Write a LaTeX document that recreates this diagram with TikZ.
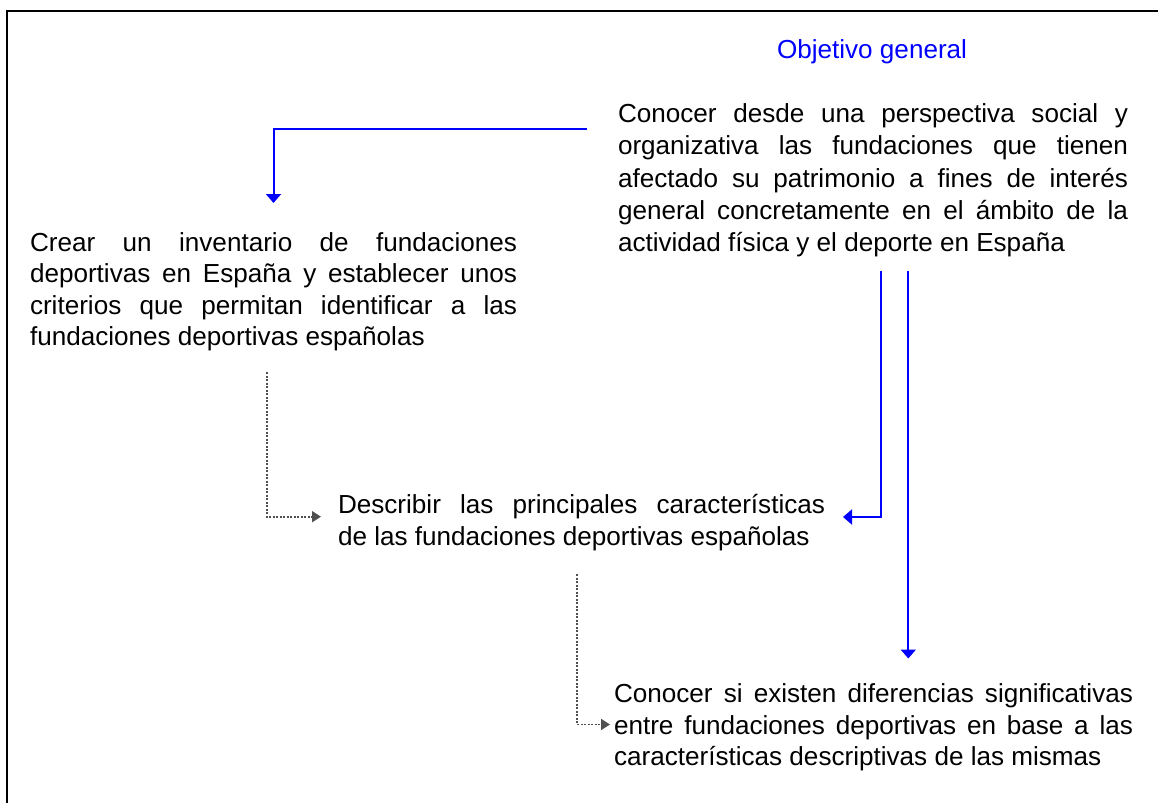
\documentclass[tikz,border=0pt]{standalone}
\usepackage{fontspec}
\setmainfont{Liberation Sans}
\usetikzlibrary{arrows.meta}
\newcommand\jline[1]{\hbox to \hsize{#1}}
\newcommand\lline[1]{\hbox{#1}}
\tikzset{
  txt/.style={anchor=base west, inner sep=0pt, outer sep=0pt, font=\fontsize{26.1}{32.2}\selectfont},
  bluearrow/.style={draw={rgb,255:red,0;green,0;blue,255}, line width=2pt, -{Triangle[width=15pt,length=9pt]}},
  grayarrow/.style={draw={rgb,255:red,80;green,80;blue,80}, line width=1.8pt, dash pattern=on 2pt off 1.5pt, -{Triangle[width=11pt,length=9pt]}},
  frameline/.style={draw=black, line width=1.5pt}
}
\begin{document}
\begin{tikzpicture}[x=1pt,y=-1pt]
\useasboundingbox (0,0) rectangle (1158,803);
\fill[white] (0,0) rectangle (1158,803);
\draw[frameline] (1158,11) -- (7,11) -- (7,803);

\node[txt, text={rgb,255:red,0;green,0;blue,255}] (obj) at (777,58.5) {Objetivo general};

\node[txt] (g) at (618,122.6) {\vtop{\hsize=510pt
  \jline{Conocer desde una perspectiva social y}
  \jline{organizativa las fundaciones que tienen}
  \jline{afectado su patrimonio a fines de interés}
  \jline{general concretamente en el ámbito de la}
  \lline{actividad física y el deporte en España}}};

\node[txt] (s1) at (30,251) {\vtop{\hsize=487pt\baselineskip=31.5pt
  \jline{Crear un inventario de fundaciones}
  \jline{deportivas en España y establecer unos}
  \jline{criterios que permitan identificar a las}
  \lline{fundaciones deportivas españolas}}};

\node[txt] (s2) at (338,513.5) {\vtop{\hsize=487pt\baselineskip=31.7pt
  \jline{Describir las principales características}
  \lline{de las fundaciones deportivas españolas}}};

\node[txt] (s3) at (614,702.5) {\vtop{\hsize=519pt\baselineskip=31.6pt
  \jline{Conocer si existen diferencias significativas}
  \jline{entre fundaciones deportivas en base a las}
  \lline{características descriptivas de las mismas}}};

\coordinate (a1s) at (587,129.3);
\coordinate (a1e) at (273.5,203);
\coordinate (a2s) at (881,270.7);
\coordinate (a2e) at (843,517);
\coordinate (a3s) at (908.3,270.7);
\coordinate (a3e) at (908.3,658.5);
\coordinate (d1s) at (266.7,372.3);
\coordinate (d1e) at (321,516.7);
\coordinate (d2s) at (577.3,574);
\coordinate (d2e) at (610,724.5);

\draw[bluearrow] (a1s) -| (a1e);
\draw[bluearrow] (a2s) |- (a2e);
\draw[bluearrow] (a3s) -- (a3e);
\draw[grayarrow] (d1s) |- (d1e);
\draw[grayarrow] (d2s) |- (d2e);
\end{tikzpicture}
\end{document}
